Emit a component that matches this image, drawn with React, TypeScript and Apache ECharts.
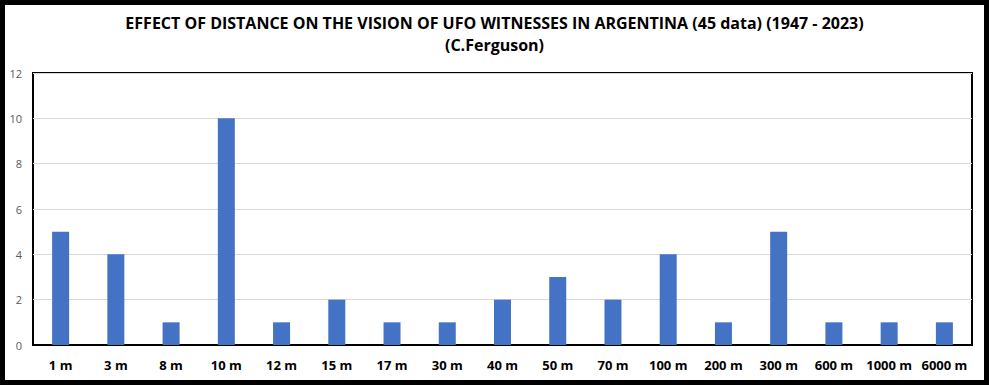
import React, { useEffect, useRef } from "react";
import * as echarts from "echarts";

const categories = ["1 m", "3 m", "8 m", "10 m", "12 m", "15 m", "17 m", "30 m", "40 m", "50 m", "70 m", "100 m", "200 m", "300 m", "600 m", "1000 m", "6000 m"];
const counts = [5, 4, 1, 10, 1, 2, 1, 1, 2, 3, 2, 4, 1, 5, 1, 1, 1];
const titleLines = ["EFFECT OF DISTANCE ON THE VISION OF UFO WITNESSES IN ARGENTINA (45 data) (1947 - 2023)", "(C.Ferguson)"];
const yMin = 0;
const yMax = 12;
const yStep = 2;

export default function App() {
  const ref = useRef<HTMLDivElement>(null);
  useEffect(() => {
    if (!ref.current) return;
    const chart = echarts.init(ref.current, null, { renderer: "svg" });
    chart.setOption({
      animation: false,
      backgroundColor: "#ffffff",
      title: {
        text: titleLines.join("\n"),
        left: "center",
        top: 7,
        textStyle: {
          fontFamily: "Open Sans",
          fontWeight: "bold",
          fontSize: 16,
          color: "#000000",
          lineHeight: 22,
        },
      },
      graphic: [
        {
          type: "rect",
          shape: { x: 2.5, y: 2.5, width: 984, height: 380 },
          style: { fill: "none", stroke: "#000000", lineWidth: 5 },
          silent: true,
          z: 100,
        },
      ],
      grid: {
        left: 33,
        right: 17,
        top: 73,
        bottom: 40,
        show: true,
        borderColor: "#000000",
        borderWidth: 2,
        backgroundColor: "transparent",
        containLabel: false,
      },
      xAxis: {
        type: "category",
        data: categories,
        axisLine: { show: true, lineStyle: { color: "#000000", width: 2 } },
        axisTick: { show: false },
        axisLabel: {
          color: "#000000",
          fontFamily: "Open Sans",
          fontWeight: "bold",
          fontSize: 13,
          margin: 13,
          interval: 0,
        },
      },
      yAxis: {
        type: "value",
        min: yMin,
        max: yMax,
        interval: yStep,
        axisLine: { show: false },
        axisTick: { show: false },
        splitLine: { show: true, lineStyle: { color: "#d9d9d9", width: 1 } },
        axisLabel: {
          color: "#595959",
          fontFamily: "Open Sans",
          fontSize: 11,
          margin: 11,
        },
      },
      series: [
        {
          type: "bar",
          data: counts,
          barWidth: 17,
          itemStyle: { color: "#4472C4" },
        },
      ],
    });
    return () => chart.dispose();
  }, []);
  return (
    <div
      ref={ref}
      style={{ position: "fixed", left: 0, top: 0, width: 989, height: 385 }}
    />
  );
}
